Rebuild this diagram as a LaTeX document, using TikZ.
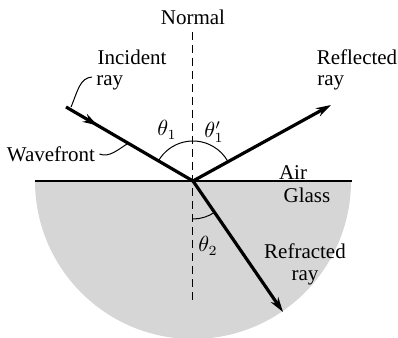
\documentclass[tikz,border=0pt]{standalone}
\usepackage{fontspec}
\setmainfont{Liberation Serif}
\usetikzlibrary{positioning, calc, arrows.meta, decorations.markings}

\begin{document}
\begin{tikzpicture}[
    x=0.5pt, y=0.5pt,
    label/.style={font=\fontsize{10.5}{12}\selectfont, inner sep=0pt, align=left},
    ray/.style={line width=1.6pt, -{Stealth[length=7.5pt,width=4.5pt]}},
    midarrow/.style={line width=1.6pt, postaction={decorate},
        decoration={markings, mark=at position 0.25 with {\arrow{Stealth[length=7.5pt,width=4.5pt]}}}},
    normal/.style={line width=0.5pt, dash pattern=on 4pt off 2.5pt},
    leader/.style={line width=0.5pt},
    anglearc/.style={line width=0.5pt}
]
\useasboundingbox (0,0) rectangle (398,338);

% Glass
\coordinate (O) at (193,157);
\fill[black!16] (O) ++(-158,0) arc[start angle=180, end angle=360, radius=158] -- cycle;
\draw[line width=0.6pt] (35,157) -- (352,157);

% Normal
\coordinate (ntop) at (193,306);
\coordinate (nbot) at (193,38);
\draw[normal] (ntop) -- (nbot);
\node[label] (normal) at (193,321) {Normal};

% Rays
\coordinate (inc) at (66,231);
\coordinate (refl) at (331,233);
\coordinate (refr) at (283,26);
\draw[midarrow] (inc) -- (O);
\draw[ray] (O) -- (refl);
\draw[ray] (O) -- (refr);

% Angles
\draw[anglearc] (O) ++(150:40) arc[start angle=150, end angle=29, radius=40];
\draw[anglearc] (O) ++(270:38) arc[start angle=270, end angle=304.5, radius=38];
\node[label] (theta1) at (167,208) {$\theta_1$};
\node[label] (theta1p) at (214,206) {$\theta_1'$};
\node[label] (theta2) at (208,92) {$\theta_2$};

% Labels
\node[label] (incident) at (132,281) {Incident};
\node[label, anchor=west] (incray) at (96,255) {ray};
\node[label] (wavefront) at (51,184) {Wavefront};
\node[label] (reflected) at (357,281) {Reflected};
\node[label, anchor=west] (reflray) at (317,255) {ray};
\node[label] (air) at (293,165) {Air};
\node[label] (glass) at (307,143) {Glass};
\node[label] (refracted) at (305,87) {Refracted};
\node[label] (refrray) at (305,60) {ray};

% Leaders
\coordinate (incfoot) at ($(inc)!0.04!(O)+(0,3)$);
\coordinate (wf) at ($(inc)!0.49!(O)$);
\draw[leader] (incfoot) .. controls (78,248) and (80,260) .. ([xshift=-2pt,yshift=3pt]incray.west);
\draw[leader] ([xshift=2pt]wavefront.east) .. controls +(10,-4) and +(-10,-6) .. (wf);

\end{tikzpicture}
\end{document}
